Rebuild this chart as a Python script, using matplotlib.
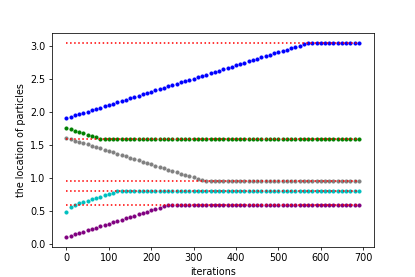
import matplotlib
matplotlib.use("Agg")
import matplotlib.pyplot as plt

# iterations sampled every 10 steps
iterations = list(range(0, 700, 10))

# target locations (red dotted lines)
targets = [3.05, 1.60, 0.95, 0.80, 0.60]

# particle positions
blue = [1.91, 1.93, 1.95, 1.97, 1.99, 2.01, 2.03, 2.05, 2.07, 2.09,
        2.11, 2.13, 2.15, 2.17, 2.19, 2.21, 2.23, 2.25, 2.27, 2.29,
        2.31, 2.33, 2.35, 2.37, 2.39, 2.41, 2.43, 2.45, 2.47, 2.49,
        2.51, 2.53, 2.55, 2.57, 2.59, 2.61, 2.63, 2.65, 2.67, 2.69,
        2.71, 2.73, 2.75, 2.77, 2.79, 2.81, 2.83, 2.85, 2.87, 2.89,
        2.91, 2.93, 2.95, 2.97, 2.99, 3.01, 3.03] + [3.05] * 13
green = [1.76, 1.74, 1.72, 1.70, 1.68, 1.66, 1.64, 1.62] + [1.60] * 62
gray = [1.61, 1.59, 1.57, 1.55, 1.53, 1.51, 1.49, 1.47, 1.45, 1.43,
        1.41, 1.39, 1.37, 1.35, 1.33, 1.31, 1.29, 1.27, 1.25, 1.23,
        1.21, 1.19, 1.17, 1.15, 1.13, 1.11, 1.09, 1.07, 1.05, 1.03,
        1.01, 0.99, 0.97] + [0.95] * 37
cyan = [0.49, 0.56, 0.59, 0.62, 0.64, 0.66, 0.68, 0.70, 0.72, 0.74,
        0.76, 0.78] + [0.80] * 58
purple = [0.11, 0.13, 0.15, 0.17, 0.19, 0.21, 0.23, 0.25, 0.27, 0.29,
          0.31, 0.33, 0.35, 0.37, 0.39, 0.41, 0.43, 0.45, 0.47, 0.49,
          0.51, 0.53, 0.55, 0.57, 0.59] + [0.60] * 45

fig, ax = plt.subplots(figsize=(6, 4.005), dpi=69.17)

for ys, col in [(blue, "b"), (green, "g"), (gray, "gray"), (cyan, "c"), (purple, "purple")]:
    ax.plot(iterations, ys, ".", color=col, markersize=6.5)

ax.hlines(targets, iterations[0], iterations[-1], colors="r", linestyles=":", linewidth=1.6)

ax.set_xlabel("iterations")
ax.set_ylabel("the location of particles")

fig.savefig("out.png")
